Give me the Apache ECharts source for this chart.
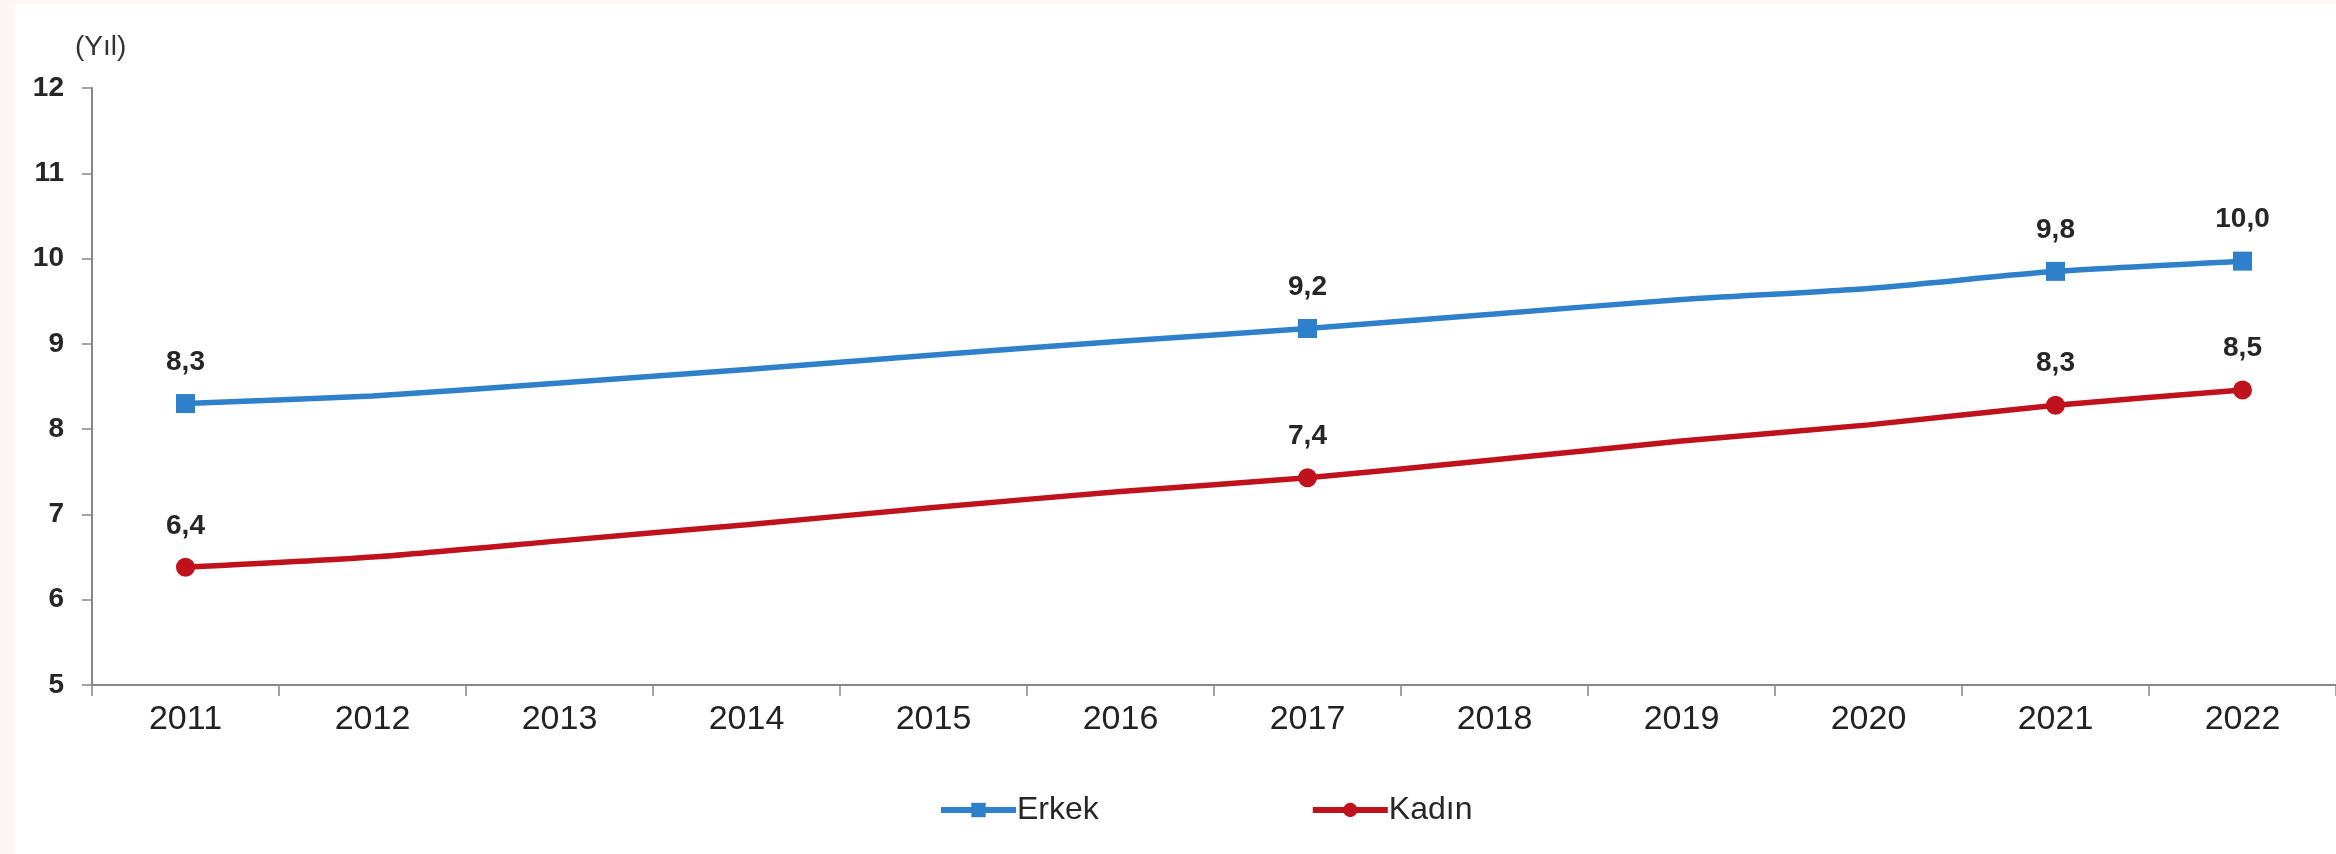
<!DOCTYPE html>
<html>
<head>
<meta charset="utf-8">
<script src="https://cdn.jsdelivr.net/npm/echarts@6/dist/echarts.min.js"></script>
<style>
html,body{margin:0;padding:0;width:2336px;height:854px;background:#fdf5f4;overflow:hidden;}
#c{position:absolute;left:15px;top:3px;width:2321px;height:851px;background:#ffffff;}
</style>
</head>
<body>
<div id="c"></div>
<script>
const years = ['2011','2012','2013','2014','2015','2016','2017','2018','2019','2020','2021','2022'];
const erkek = [8.30, 8.39, 8.54, 8.70, 8.87, 9.03, 9.18, 9.35, 9.52, 9.65, 9.85, 9.97];
const kadin = [6.38, 6.50, 6.69, 6.88, 7.08, 7.27, 7.43, 7.64, 7.86, 8.05, 8.28, 8.46];
const labeledYears = ['2011','2017','2021','2022'];
const yTicks = {min: 5, max: 12, interval: 1};

const fmt = v => v.toFixed(1).replace('.', ',');
const withLabels = arr => arr.map((v, i) => {
  const on = labeledYears.includes(years[i]);
  const item = {value: v, label: {show: on}};
  if (!on) item.symbol = 'none';
  return item;
});

const chart = echarts.init(document.getElementById('c'));
const NARROW = '"Liberation Sans Narrow", "Arial Narrow", "Liberation Sans", Arial, sans-serif';
const FONT = '"Liberation Sans", Arial, sans-serif';
chart.setOption({
  animation: false,
  title: {
    text: '(Yıl)', left: 55, top: 25,
    textStyle: {fontFamily: FONT, fontSize: 28, fontWeight: 'normal', color: '#333333'}
  },
  legend: {
    left: 918, top: 786, itemGap: 211, itemWidth: 75, itemHeight: 18,
    textStyle: {fontFamily: FONT, fontSize: 32, color: '#262626', padding: [0,0,0,-4]},
    lineStyle: {width: 6},
    data: ['Erkek', 'Kadın']
  },
  grid: {left: 77, right: 0, top: 85, bottom: 169},
  xAxis: {
    type: 'category', data: years, boundaryGap: true,
    axisLine: {lineStyle: {color: '#868686', width: 2}},
    axisTick: {show: true, length: 11, lineStyle: {color: '#868686', width: 1.5}},
    axisLabel: {fontFamily: NARROW, fontSize: 34, color: '#222222', margin: 18}
  },
  yAxis: {
    type: 'value', min: yTicks.min, max: yTicks.max, interval: yTicks.interval,
    splitLine: {show: false},
    axisLine: {show: true, lineStyle: {color: '#868686', width: 2}},
    axisTick: {show: true, length: 10, lineStyle: {color: '#868686', width: 1.5}},
    axisLabel: {fontFamily: FONT, fontSize: 28, fontWeight: 'bold', color: '#262626', margin: 28}
  },
  series: [
    {
      name: 'Erkek', type: 'line', data: withLabels(erkek), smooth: 0.2,
      symbol: 'rect', symbolSize: 19,
      lineStyle: {color: '#2e80ca', width: 5.5},
      itemStyle: {color: '#2e80ca'},
      label: {position: 'top', distance: 18, fontFamily: FONT, fontSize: 28, fontWeight: 'bold', color: '#262626',
        formatter: p => fmt(p.value)}
    },
    {
      name: 'Kadın', type: 'line', data: withLabels(kadin), smooth: 0.2,
      symbol: 'circle', symbolSize: 19,
      lineStyle: {color: '#c0121c', width: 5.5},
      itemStyle: {color: '#c0121c'},
      label: {position: 'top', distance: 18, fontFamily: FONT, fontSize: 28, fontWeight: 'bold', color: '#262626',
        formatter: p => fmt(p.value)}
    }
  ]
});
</script>
</body>
</html>
